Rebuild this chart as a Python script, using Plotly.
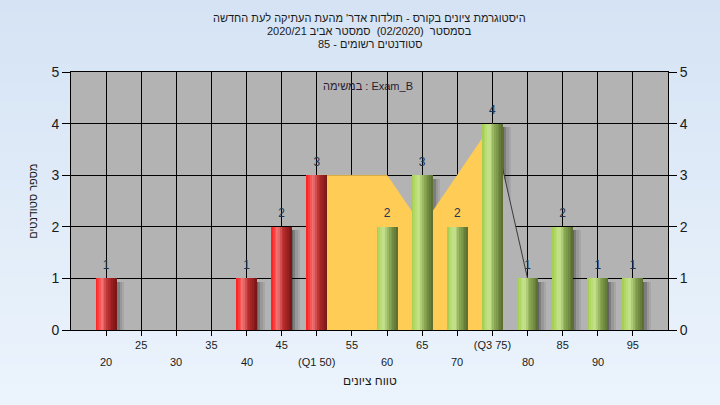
import plotly.graph_objects as go

# ---------------- data ----------------
categories = [20, 25, 30, 35, 40, 45, 50, 55, 60, 65, 70, 75, 80, 85, 90, 95]
counts = [1, 0, 0, 0, 1, 2, 3, 0, 2, 3, 2, 4, 1, 2, 1, 1]
q1_value = 50
q3_value = 75
tick_labels = ["20", "25", "30", "35", "40", "45", "(Q1 50)", "55", "60", "65",
               "70", "(Q3 75)", "80", "85", "90", "95"]
band_x = [50, 55, 60, 65, 70, 75]
band_y = [3, 3, 3, 2, 3, 4]
tail_x = [75, 80]
tail_y = [4, 1]

title_lines = [
    "היסטוגרמת ציונים בקורס - תולדות אדר' מהעת העתיקה לעת החדשה",
    "בסמסטר  (02/2020)  סמסטר אביב 2020/21",
    "סטודנטים רשומים - 85",
]
task_label = "במשימה : Exam_B"
x_title = "טווח ציונים"
y_title = "מספר סטודנטים"

# ---------------- styling ----------------
FONT = "Liberation Sans, Arial, DejaVu Sans, sans-serif"
PLOT_GRAY = "#b3b3b3"
BAR_W = 3.0          # in x units (5 units per category)
N_SLICES = 12
X_RANGE = [15, 100]
Y_RANGE = [0, 5]

red_stops = [(0.0, (255, 25, 25)), (0.12, (250, 60, 60)), (0.32, (240, 120, 120)),
             (0.55, (190, 50, 50)), (0.8, (150, 30, 30)), (1.0, (115, 20, 20))]
green_stops = [(0.0, (160, 205, 75)), (0.12, (175, 215, 100)), (0.35, (200, 228, 145)),
               (0.6, (140, 170, 85)), (0.85, (105, 130, 60)), (1.0, (85, 105, 45))]


def interp(stops, t):
    for (t0, c0), (t1, c1) in zip(stops[:-1], stops[1:]):
        if t0 <= t <= t1:
            f = (t - t0) / (t1 - t0) if t1 > t0 else 0
            c = [round(a + (b - a) * f) for a, b in zip(c0, c1)]
            return "rgb(%d,%d,%d)" % tuple(c)
    c = stops[-1][1]
    return "rgb(%d,%d,%d)" % tuple(c)


red_x = [c for c, v in zip(categories, counts) if c <= q1_value and v > 0]
red_y = [v for c, v in zip(categories, counts) if c <= q1_value and v > 0]
green_x = [c for c, v in zip(categories, counts) if c > q1_value and v > 0]
green_y = [v for c, v in zip(categories, counts) if c > q1_value and v > 0]
all_x = red_x + green_x
all_y = red_y + green_y

fig = go.Figure()

# ---- base subplot (x, y): shadows, quartile area, tail ----
shadow_parts = [(BAR_W / 2 - 0.4, 0.5, 0.45), (BAR_W / 2 + 0.1, 0.35, 0.3),
                (BAR_W / 2 + 0.45, 0.35, 0.15), (BAR_W / 2 + 0.8, 0.3, 0.07)]
for off, wd, alpha in shadow_parts:
    fig.add_trace(go.Bar(x=all_x, y=[v - 0.07 for v in all_y], width=wd, offset=off,
                         marker=dict(color="rgba(0,0,0,%.2f)" % alpha, line=dict(width=0)),
                         hoverinfo="skip", showlegend=False))

fig.add_trace(go.Scatter(x=band_x, y=band_y, mode="lines", fill="tozeroy",
                         fillcolor="#ffcc55", line=dict(color="#ffcc55", width=0.5),
                         hoverinfo="skip", showlegend=False))
fig.add_trace(go.Scatter(x=tail_x, y=tail_y, mode="lines", fill="tozeroy",
                         fillcolor=PLOT_GRAY, line=dict(color="#3a3a3a", width=1),
                         hoverinfo="skip", showlegend=False))

# ---- overlay subplot (x2, y3): bars and labels ----
sw = BAR_W / N_SLICES
for xs, ys, stops in [(red_x, red_y, red_stops), (green_x, green_y, green_stops)]:
    for i in range(N_SLICES):
        t = (i + 0.5) / N_SLICES
        fig.add_trace(go.Bar(x=xs, y=ys, width=sw * 1.25 if i < N_SLICES - 1 else sw,
                             offset=-BAR_W / 2 + i * sw, xaxis="x2", yaxis="y3",
                             marker=dict(color=interp(stops, t), line=dict(width=0)),
                             hoverinfo="skip", showlegend=False))

fig.add_trace(go.Scatter(x=all_x, y=all_y, mode="markers+text", text=[str(v) for v in all_y],
                         textposition="top center", xaxis="x2", yaxis="y3",
                         marker=dict(size=9, opacity=0),
                         textfont=dict(family=FONT, size=12, color="#1f3350"),
                         hoverinfo="skip", showlegend=False, cliponaxis=False))

# invisible trace for right axis
fig.add_trace(go.Scatter(x=[categories[0]], y=[0], yaxis="y2", mode="markers",
                         marker=dict(opacity=0), hoverinfo="skip", showlegend=False))

# ---------------- layout ----------------
shapes = []
n_bands = 45
top_c = (213, 227, 244)
bot_c = (237, 245, 253)
for i in range(n_bands):
    f = i / (n_bands - 1)
    c = [round(a + (b - a) * f) for a, b in zip(top_c, bot_c)]
    shapes.append(dict(type="rect", xref="paper", yref="paper", layer="below",
                       x0=-0.2, x1=1.2, y0=1.3 - (i + 1) * (1.7 / n_bands) - 0.01,
                       y1=1.3 - i * (1.7 / n_bands),
                       fillcolor="rgb(%d,%d,%d)" % tuple(c), line=dict(width=0)))
shapes.append(dict(type="rect", xref="paper", yref="paper", layer="below",
                   x0=0, x1=1, y0=0, y1=1, fillcolor=PLOT_GRAY, line=dict(width=0)))

annotations = []
title_y = [1.209, 1.159, 1.109]
for txt, yy in zip(title_lines, title_y):
    annotations.append(dict(text="\u202b" + txt + "\u202c", xref="paper", yref="paper",
                            x=0.5, y=yy, xanchor="center", yanchor="middle",
                            showarrow=False, font=dict(family=FONT, size=11, color="#1a1a1a")))
annotations.append(dict(text=task_label, xref="paper", yref="paper", x=0.497, y=0.946,
                        xanchor="center", yanchor="middle", showarrow=False,
                        font=dict(family=FONT, size=11, color="#2a1a30")))
for c, lab in zip(categories[0::2], tick_labels[0::2]):
    annotations.append(dict(text=lab, xref="x", yref="paper", x=c, y=-0.124,
                            xanchor="center", yanchor="middle", showarrow=False,
                            font=dict(family=FONT, size=11, color="#1a1a1a")))
annotations.append(dict(text=x_title, xref="paper", yref="paper", x=0.5, y=-0.198,
                        xanchor="center", yanchor="middle", showarrow=False,
                        font=dict(family=FONT, size=12, color="#1a1a1a")))
annotations.append(dict(text=y_title, xref="paper", yref="paper", x=-0.064, y=0.5,
                        xanchor="center", yanchor="middle", textangle=-90, showarrow=False,
                        font=dict(family=FONT, size=11, color="#1a1a1a")))

upper_text = [lab if i % 2 == 1 else "" for i, lab in enumerate(tick_labels)]

fig.update_layout(
    width=720, height=405,
    margin=dict(l=71, r=52, t=72, b=75),
    paper_bgcolor="#e2edf8",
    plot_bgcolor="rgba(0,0,0,0)",
    barmode="overlay",
    bargap=0,
    showlegend=False,
    hovermode=False,
    shapes=shapes,
    annotations=annotations,
    xaxis=dict(range=X_RANGE, tickvals=categories, ticktext=upper_text,
               showgrid=True, gridcolor="black", gridwidth=1, zeroline=False,
               showline=True, linecolor="black", linewidth=1, mirror=True,
               ticks="outside", ticklen=5, tickcolor="black", automargin=False,
               tickfont=dict(family=FONT, size=11, color="#1a1a1a")),
    xaxis2=dict(range=X_RANGE, overlaying="x", visible=False, automargin=False),
    yaxis=dict(range=Y_RANGE, dtick=1, showgrid=True, gridcolor="black", gridwidth=1,
               zeroline=False, showline=True, linecolor="black", linewidth=1, mirror=True,
               ticks="outside", ticklen=8, tickcolor="black", automargin=False,
               tickfont=dict(family=FONT, size=14, color="#1a1a1a")),
    yaxis2=dict(range=Y_RANGE, dtick=1, overlaying="y", side="right", showgrid=False,
                zeroline=False, showline=False, ticks="outside", ticklen=8,
                tickcolor="black", automargin=False,
                tickfont=dict(family=FONT, size=14, color="#1a1a1a")),
    yaxis3=dict(range=Y_RANGE, overlaying="y", visible=False, automargin=False),
)

fig.write_html("out.html",
               config={"displayModeBar": False, "staticPlot": True},
               post_script="document.body.style.margin='0';document.body.style.overflow='hidden';")
